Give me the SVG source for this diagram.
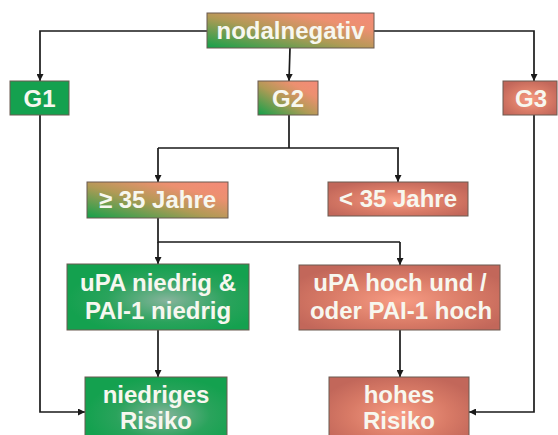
<svg xmlns="http://www.w3.org/2000/svg" width="558" height="435" viewBox="0 0 558 435">
<style>
.t{font-family:"Liberation Sans",Arial,sans-serif;font-weight:bold;font-size:24px;fill:#f7f7ef;text-anchor:middle}
.b{stroke:#6a5a50;stroke-width:1}
.c{fill:none;stroke:#1a1a1a;stroke-width:1.7}
</style>
<defs>
<linearGradient id="mix" x1="0" y1="1" x2="1" y2="0">
<stop offset="0" stop-color="#12a14a"/>
<stop offset="0.45" stop-color="#b09a55"/>
<stop offset="0.75" stop-color="#ec9070"/>
<stop offset="1" stop-color="#f48a78"/>
</linearGradient>
<radialGradient id="grn" cx="0.55" cy="0.55" r="0.55">
<stop offset="0" stop-color="#86b49c"/>
<stop offset="0.6" stop-color="#2aa35c"/>
<stop offset="1" stop-color="#14a14f"/>
</radialGradient>
<radialGradient id="red" cx="0.5" cy="0.55" r="0.6">
<stop offset="0" stop-color="#f79c84"/>
<stop offset="0.6" stop-color="#d87a66"/>
<stop offset="1" stop-color="#c2675a"/>
</radialGradient>
<marker id="a" viewBox="0 0 8 8" refX="8" refY="4" markerWidth="7" markerHeight="7" markerUnits="userSpaceOnUse" orient="auto">
<path d="M0,0 L8,4 L0,8 Z" fill="#1a1a1a"/>
</marker>
</defs>
<g id="connectors">
<path class="c" d="M207,31 H40 V81" marker-end="url(#a)"/>
<path class="c" d="M374,31 H534 V81" marker-end="url(#a)"/>
<path class="c" d="M290,48 L289,81" marker-end="url(#a)"/>
<path class="c" d="M289,115 V148 M158,148 H399"/>
<path class="c" d="M158,148 V182" marker-end="url(#a)"/>
<path class="c" d="M398,148 V182" marker-end="url(#a)"/>
<path class="c" d="M158,218 V242 H400"/>
<path class="c" d="M158,242 V264" marker-end="url(#a)"/>
<path class="c" d="M400,242 V265" marker-end="url(#a)"/>
<path class="c" d="M158,330 V377" marker-end="url(#a)"/>
<path class="c" d="M400,330 V377" marker-end="url(#a)"/>
<path class="c" d="M40,115 V412 H85" marker-end="url(#a)"/>
<path class="c" d="M534,115 V412 H469" marker-end="url(#a)"/>
</g>
<g id="nodalnegativ">
<rect class="b" x="207" y="13" width="167" height="35" fill="url(#mix)"/>
<text class="t" x="290.5" y="39">nodalnegativ</text>
</g>
<g id="G1">
<rect class="b" x="10" y="81" width="59" height="34" fill="#14a14f"/>
<text class="t" x="39.5" y="107" font-size="23">G1</text>
</g>
<g id="G2">
<rect class="b" x="258" y="81" width="60" height="34" fill="url(#mix)"/>
<text class="t" x="288" y="107" font-size="23">G2</text>
</g>
<g id="G3">
<rect class="b" x="503" y="81" width="54" height="34" fill="url(#red)"/>
<text class="t" x="531" y="107" font-size="23">G3</text>
</g>
<g id="alt-ge35">
<rect class="b" x="87" y="182" width="141" height="36" fill="url(#mix)"/>
<text class="t" x="157.5" y="208">≥ 35 Jahre</text>
</g>
<g id="alt-lt35">
<rect class="b" x="328" y="182" width="140" height="34" fill="url(#red)"/>
<text class="t" x="398" y="207">&lt; 35 Jahre</text>
</g>
<g id="upa-niedrig">
<rect class="b" x="67" y="264" width="182" height="66" fill="url(#grn)"/>
<text class="t" x="158" y="291">uPA niedrig &amp;</text>
<text class="t" x="158" y="319">PAI-1 niedrig</text>
</g>
<g id="upa-hoch">
<rect class="b" x="299" y="265" width="201" height="65" fill="url(#red)"/>
<text class="t" x="400" y="291">uPA hoch und /</text>
<text class="t" x="401" y="319">oder PAI-1 hoch</text>
</g>
<g id="niedriges-risiko">
<rect class="b" x="85" y="377" width="142" height="70" fill="url(#grn)"/>
<text class="t" x="156" y="403">niedriges</text>
<text class="t" x="156" y="429">Risiko</text>
</g>
<g id="hohes-risiko">
<rect class="b" x="329" y="377" width="140" height="70" fill="url(#red)"/>
<text class="t" x="399" y="403">hohes</text>
<text class="t" x="399" y="429">Risiko</text>
</g>
</svg>
